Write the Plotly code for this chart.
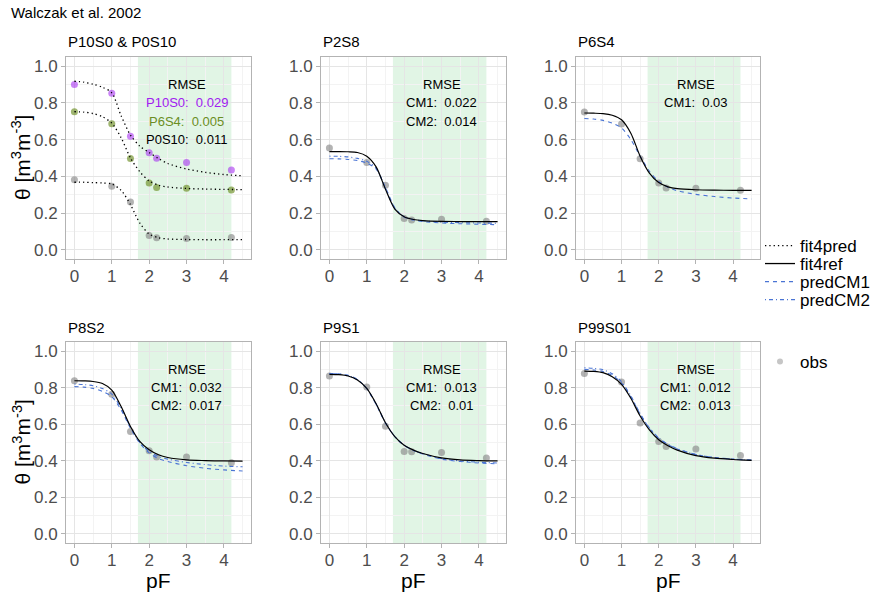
import plotly.graph_objects as go

W, H = 885, 593

# ---------------- data ----------------
pF_obs = [0, 1, 1.5, 2, 2.2, 3, 4.2]
pF_fit = [0, 0.25, 0.5, 0.75, 1.0, 1.25, 1.5, 1.75, 2.0, 2.25, 2.5, 3.0, 3.5, 4.0, 4.5]

# Panel 1: P10S0 & P0S10 (plus P6S4)
obs_P10S0 = [0.900, 0.852, 0.619, 0.528, 0.499, 0.475, 0.435]
obs_P6S4 = [0.752, 0.687, 0.497, 0.364, 0.339, 0.335, 0.326]
obs_P0S10 = [0.381, 0.346, 0.260, 0.078, 0.066, 0.062, 0.067]
fit4pred_P10S0 = [0.918, 0.913, 0.902, 0.885, 0.855, 0.730, 0.625, 0.565, 0.530, 0.497, 0.470, 0.440, 0.422, 0.410, 0.403]
fit4pred_P6S4 = [0.752, 0.750, 0.742, 0.725, 0.690, 0.610, 0.500, 0.425, 0.375, 0.352, 0.342, 0.334, 0.331, 0.329, 0.328]
fit4pred_P0S10 = [0.368, 0.368, 0.366, 0.364, 0.359, 0.324, 0.246, 0.146, 0.086, 0.066, 0.059, 0.056, 0.055, 0.055, 0.055]

# Panels 2-6
panel_names = ["P2S8", "P6S4", "P8S2", "P9S1", "P99S01"]
obs = {
    "P2S8": [0.555, 0.476, 0.351, 0.171, 0.162, 0.167, 0.156],
    "P6S4": [0.751, 0.685, 0.496, 0.364, 0.336, 0.335, 0.325],
    "P8S2": [0.838, 0.764, 0.560, 0.455, 0.420, 0.420, 0.389],
    "P9S1": [0.864, 0.804, 0.589, 0.451, 0.450, 0.445, 0.415],
    "P99S01": [0.878, 0.831, 0.607, 0.505, 0.478, 0.464, 0.429],
}
fit4ref = {
    "P2S8": [0.535, 0.535, 0.534, 0.530, 0.510, 0.452, 0.330, 0.222, 0.180, 0.165, 0.159, 0.155, 0.154, 0.153, 0.153],
    "P6S4": [0.745, 0.744, 0.742, 0.733, 0.708, 0.635, 0.510, 0.418, 0.366, 0.343, 0.333, 0.327, 0.325, 0.324, 0.324],
    "P8S2": [0.838, 0.837, 0.834, 0.823, 0.787, 0.697, 0.588, 0.506, 0.460, 0.433, 0.418, 0.405, 0.401, 0.399, 0.398],
    "P9S1": [0.873, 0.871, 0.864, 0.842, 0.796, 0.712, 0.608, 0.532, 0.485, 0.458, 0.440, 0.416, 0.405, 0.401, 0.399],
    "P99S01": [0.891, 0.889, 0.882, 0.860, 0.818, 0.742, 0.645, 0.569, 0.515, 0.482, 0.458, 0.428, 0.414, 0.407, 0.402],
}
predCM1 = {
    "P2S8": [0.496, 0.495, 0.492, 0.486, 0.472, 0.440, 0.340, 0.230, 0.178, 0.162, 0.154, 0.146, 0.142, 0.139, 0.137],
    "P6S4": [0.715, 0.712, 0.705, 0.690, 0.664, 0.600, 0.510, 0.428, 0.372, 0.340, 0.322, 0.302, 0.290, 0.282, 0.277],
    "P8S2": [0.806, 0.803, 0.796, 0.780, 0.751, 0.678, 0.578, 0.496, 0.443, 0.412, 0.396, 0.373, 0.359, 0.350, 0.344],
    "P9S1": [0.878, 0.876, 0.868, 0.845, 0.795, 0.708, 0.606, 0.532, 0.484, 0.456, 0.437, 0.409, 0.396, 0.388, 0.383],
    "P99S01": [0.900, 0.897, 0.889, 0.868, 0.825, 0.750, 0.655, 0.578, 0.523, 0.489, 0.465, 0.434, 0.418, 0.409, 0.404],
}
predCM2 = {
    "P2S8": [0.510, 0.509, 0.506, 0.498, 0.482, 0.445, 0.335, 0.226, 0.180, 0.165, 0.158, 0.151, 0.148, 0.146, 0.145],
    "P8S2": [0.820, 0.817, 0.811, 0.795, 0.765, 0.688, 0.584, 0.500, 0.451, 0.424, 0.409, 0.391, 0.379, 0.371, 0.367],
    "P9S1": [0.877, 0.875, 0.867, 0.844, 0.796, 0.710, 0.608, 0.533, 0.485, 0.457, 0.439, 0.412, 0.399, 0.392, 0.388],
    "P99S01": [0.909, 0.906, 0.898, 0.876, 0.832, 0.755, 0.658, 0.580, 0.525, 0.490, 0.466, 0.434, 0.418, 0.409, 0.404],
}
rmse = {
    "P2S8": ["CM1:  0.022", "CM2:  0.014"],
    "P6S4": ["CM1:  0.03"],
    "P8S2": ["CM1:  0.032", "CM2:  0.017"],
    "P9S1": ["CM1:  0.013", "CM2:  0.01"],
    "P99S01": ["CM1:  0.012", "CM2:  0.013"],
}
rmse_p1 = ["P10S0:  0.029", "P6S4:  0.005", "P0S10:  0.011"]
titles = ["P10S0 & P0S10"] + panel_names
x_ticks = [0, 1, 2, 3, 4]
y_ticks = [0.0, 0.2, 0.4, 0.6, 0.8, 1.0]
green_band = [1.7, 4.2]

# ---------------- style ----------------
FONT = "Liberation Sans, Arial, Helvetica, sans-serif"
BLUE = "#4a74d4"
PURPLE = "#A020F0"
OLIVE = "#6B8E23"
PT_PURPLE = "rgba(160,32,240,0.55)"
PT_OLIVE = "rgba(107,142,35,0.65)"
PT_GREY = "rgba(128,128,128,0.6)"
DOT = "1.3px,3px"
DASH = "4px,4px"
DASHDOT = "1px,3px,4px,3px"

# panel pixel boxes (left, right, top, bottom)
cols = [(66, 251), (321, 506), (576, 760)]
rows = [(57, 259), (342, 543)]

fig = go.Figure()
layout = dict(width=W, height=H, autosize=False, margin=dict(l=0, r=0, t=0, b=0, pad=0),
              paper_bgcolor="white", plot_bgcolor="white",
              font=dict(family=FONT, color="black"))
annotations = []
shapes = []


def px(x):
    return x / W


def py(y):
    return 1 - y / H


for i in range(6):
    r, c = divmod(i, 3)
    n = i + 1
    xa = "x" if n == 1 else f"x{n}"
    ya = "y" if n == 1 else f"y{n}"
    l, rr = cols[c]
    t, b = rows[r]
    common = dict(showline=True, linecolor="#b3b3b3", linewidth=1, mirror=True,
                  ticks="outside", ticklen=4, tickcolor="#b3b3b3", tickwidth=1,
                  tickfont=dict(size=17, color="#4d4d4d", family=FONT),
                  showgrid=True, gridcolor="#e5e5e5", gridwidth=1, zeroline=False,
                  fixedrange=True, automargin=False)
    layout[f"xaxis{'' if n == 1 else n}"] = dict(
        common, domain=[px(l), px(rr)], range=[-0.225, 4.725], anchor=ya,
        tickvals=x_ticks, ticktext=[str(v) for v in x_ticks], ticklabelstandoff=-2,
        minor=dict(dtick=0.5, tick0=0, showgrid=True, gridcolor="#f3f3f3", gridwidth=0.6, ticks=""))
    layout[f"yaxis{'' if n == 1 else n}"] = dict(
        common, domain=[py(b), py(t)], range=[-0.05, 1.05], anchor=xa,
        tickvals=y_ticks, ticktext=[f"{v:.1f}" for v in y_ticks],
        minor=dict(dtick=0.1, tick0=0, showgrid=True, gridcolor="#f3f3f3", gridwidth=0.6, ticks=""))
    shapes.append(dict(type="rect", xref=xa, yref=ya, x0=green_band[0], x1=green_band[1],
                       y0=-0.05, y1=1.05, fillcolor="rgba(144,218,160,0.27)", line=dict(width=0), layer="below"))
    annotations.append(dict(text=titles[i], xref="paper", yref="paper", x=px(l), y=py(t - 15),
                            xanchor="left", yanchor="middle", showarrow=False,
                            font=dict(size=15, color="black", family=FONT)))
    # RMSE text
    if i == 0:
        lines = [("RMSE", "black")] + list(zip(rmse_p1, [PURPLE, OLIVE, "black"]))
    else:
        lines = [("RMSE", "black")] + [(s, "black") for s in rmse[titles[i]]]
    for k, (s, col) in enumerate(lines):
        annotations.append(dict(text=s, xref=xa, yref=ya, x=3.0, y=0.9 - 0.1 * k,
                                xanchor="center", yanchor="middle", showarrow=False,
                                font=dict(size=13, color=col, family=FONT)))

    if i == 0:
        for fit, ob, pc in [(fit4pred_P10S0, obs_P10S0, PT_PURPLE), (fit4pred_P6S4, obs_P6S4, PT_OLIVE),
                            (fit4pred_P0S10, obs_P0S10, PT_GREY)]:
            fig.add_trace(go.Scatter(x=pF_obs, y=ob, mode="markers", xaxis=xa, yaxis=ya,
                                     marker=dict(size=7, color=pc), showlegend=False, hoverinfo="skip"))
            fig.add_trace(go.Scatter(x=pF_fit, y=fit, mode="lines", xaxis=xa, yaxis=ya,
                                     line=dict(color="black", width=1.3, dash=DOT, shape="spline", smoothing=0.8),
                                     showlegend=False, hoverinfo="skip"))
    else:
        name = titles[i]
        fig.add_trace(go.Scatter(x=pF_obs, y=obs[name], mode="markers", xaxis=xa, yaxis=ya,
                                 marker=dict(size=7, color=PT_GREY), showlegend=False, hoverinfo="skip"))
        if name in predCM2:
            fig.add_trace(go.Scatter(x=pF_fit, y=predCM2[name], mode="lines", xaxis=xa, yaxis=ya,
                                     line=dict(color=BLUE, width=1.1, dash=DASHDOT, shape="spline", smoothing=0.8),
                                     showlegend=False, hoverinfo="skip"))
        fig.add_trace(go.Scatter(x=pF_fit, y=predCM1[name], mode="lines", xaxis=xa, yaxis=ya,
                                 line=dict(color=BLUE, width=1.1, dash=DASH, shape="spline", smoothing=0.8),
                                 showlegend=False, hoverinfo="skip"))
        fig.add_trace(go.Scatter(x=pF_fit, y=fit4ref[name], mode="lines", xaxis=xa, yaxis=ya,
                                 line=dict(color="black", width=1.2, shape="spline", smoothing=0.8),
                                 showlegend=False, hoverinfo="skip"))

# legend entries: one small legend per entry to get ggplot-like tight spacing
leg_items = [("fit4pred", "black", DOT, 246), ("fit4ref", "black", "solid", 264),
             ("predCM1", BLUE, DASH, 282), ("predCM2", BLUE, DASHDOT, 300)]
leg_common = dict(xanchor="left", yanchor="top", bgcolor="rgba(0,0,0,0)", borderwidth=0,
                  font=dict(size=17, color="black", family=FONT), itemwidth=30, tracegroupgap=0)
for k, (nm, col, d, yc) in enumerate(leg_items):
    lname = "legend" if k == 0 else f"legend{k + 1}"
    fig.add_trace(go.Scatter(x=[None], y=[None], mode="lines", name=nm, legend=lname,
                             line=dict(color=col, width=1.3, dash=d)))
    layout[lname] = dict(leg_common, x=px(760), y=py(yc - 18))
fig.add_trace(go.Scatter(x=[None], y=[None], mode="markers", name="obs", legend="legend5",
                         marker=dict(size=6, color="rgba(128,128,128,0.45)")))
layout["legend5"] = dict(leg_common, x=px(760), y=py(362 - 18))

# global texts
annotations.append(dict(text="Walczak et al. 2002", xref="paper", yref="paper", x=px(9), y=py(13),
                        xanchor="left", yanchor="middle", showarrow=False,
                        font=dict(size=15, color="black", family=FONT)))
for yc in [(57 + 259) / 2, (342 + 543) / 2]:
    annotations.append(dict(text="θ [m<sup>3</sup>m<sup>-3</sup>]", xref="paper", yref="paper",
                            x=px(21), y=py(yc), xanchor="center", yanchor="middle", textangle=-90,
                            showarrow=False, font=dict(size=21, color="black", family=FONT)))
for (l, rr) in cols:
    annotations.append(dict(text="pF", xref="paper", yref="paper", x=px((l + rr) / 2), y=py(580),
                            xanchor="center", yanchor="middle", showarrow=False,
                            font=dict(size=21, color="black", family=FONT)))

layout["annotations"] = annotations
layout["shapes"] = shapes
fig.update_layout(**layout)
fig.write_html("out.html", config={"displayModeBar": False},
               post_script="document.body.style.margin='0px';")
